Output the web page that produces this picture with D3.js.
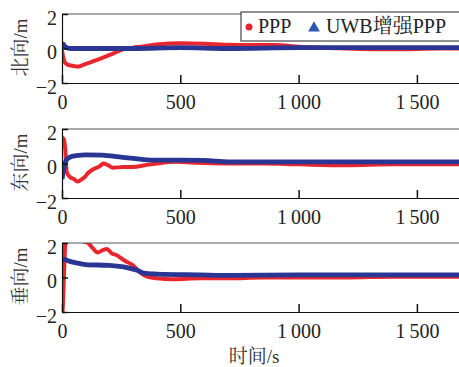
<!DOCTYPE html>
<html>
<head>
<meta charset="utf-8">
<script src="https://cdn.jsdelivr.net/npm/d3@7"></script>
<style>
  body { margin: 0; background: #fff; overflow: hidden; }
  svg { display: block; }
</style>
</head>
<body>
<div id="chart-area"></div>
<script>
// time series, [t (s), error (m)]
const northPPP = [[0,-0.1],[5,-0.5],[12,-0.8],[25,-0.95],[45,-1.0],[65,-1.05],[90,-0.95],[120,-0.8],[160,-0.6],[215,-0.3],[257,-0.05],[300,0.05],[330,0.1],[410,0.25],[500,0.3],[600,0.28],[700,0.22],[800,0.2],[900,0.2],[1000,0.1],[1200,0.0],[1400,-0.05],[1600,0.0],[1800,0.0]];
const northUWB = [[0,0.1],[5,0.25],[10,0.15],[20,0.05],[40,0.0],[100,0.0],[300,0.0],[500,0.05],[700,0.0],[1000,0.05],[1300,0.05],[1800,0.05]];
const eastPPP = [[0,1.5],[8,1.4],[14,0.8],[20,-0.5],[35,-0.8],[50,-0.9],[65,-1.05],[80,-0.95],[95,-0.8],[110,-0.55],[130,-0.35],[160,-0.15],[175,0.0],[195,-0.1],[215,-0.25],[260,-0.2],[300,-0.2],[350,-0.1],[400,0.0],[480,0.1],[560,0.05],[700,0.0],[850,0.0],[1000,-0.05],[1200,-0.1],[1400,-0.05],[1800,-0.05]];
const eastUWB = [[0,-0.9],[8,-0.3],[15,0.1],[25,0.3],[40,0.4],[60,0.45],[100,0.5],[170,0.48],[257,0.35],[300,0.3],[385,0.2],[500,0.2],[600,0.18],[710,0.1],[900,0.1],[1200,0.1],[1500,0.1],[1800,0.1]];
const upPPP = [[0,-2.5],[4,-1.5],[8,0],[12,1.5],[16,2.5],[50,3],[90,2.1],[110,2.0],[130,1.7],[150,1.45],[175,1.6],[190,1.65],[210,1.4],[230,1.3],[262,1.0],[300,0.7],[330,0.3],[360,0.05],[400,-0.05],[470,-0.1],[585,-0.05],[700,-0.05],[850,0.0],[1000,0.0],[1200,0.0],[1400,0.05],[1800,0.05]];
const upUWB = [[0,1.0],[10,1.05],[30,0.95],[60,0.85],[100,0.75],[200,0.7],[275,0.57],[320,0.4],[345,0.25],[400,0.2],[585,0.15],[710,0.12],[1000,0.15],[1300,0.15],[1800,0.15]];

const panelNames = ["北向/m", "东向/m", "垂向/m"];
const pppSeries = [northPPP, eastPPP, upPPP];
const uwbSeries = [northUWB, eastUWB, upUWB];
const xTicks = [0, 500, 1000, 1500];
const yTicks = [-2, 0, 2];
const legendNames = ["PPP", "UWB增强PPP"];

const W = 459, H = 367;
const left = 62;
const panelTops = [14, 129, 243];
const panelH = 69;

const red = "#e8262d";
const blue = "#2a3694";
const serif = "Liberation Serif, Tinos, Times New Roman, DejaVu Serif, serif";
const cjk = "Liberation Serif, Noto Serif CJK SC, Noto Sans CJK SC, serif";

const svg = d3.select("#chart-area")
  .append("svg")
  .attr("width", W)
  .attr("height", H);

const x = d3.scaleLinear()
  .domain([0, 1800])
  .range([left, left + 1800 * 0.2366]);

const fmt = d => d >= 1000 ? d3.format(",")(d).replace(",", "\u2009") : String(d);

panelNames.forEach((name, i) => {
  const top = panelTops[i];
  const y = d3.scaleLinear().domain([-2, 2]).range([top + panelH, top]);

  svg.append("clipPath").attr("id", "clip" + i)
    .append("rect")
    .attr("x", left).attr("y", top)
    .attr("width", 600).attr("height", panelH);

  const line = d3.line()
    .x(d => x(d[0]))
    .y(d => y(d[1]))
    .curve(d3.curveMonotoneX);

  const g = svg.append("g").attr("clip-path", `url(#clip${i})`);
  g.append("path").datum(pppSeries[i])
    .attr("d", line)
    .attr("fill", "none")
    .attr("stroke", red)
    .attr("stroke-width", 4)
    .attr("stroke-linejoin", "round");
  g.append("path").datum(uwbSeries[i])
    .attr("d", line)
    .attr("fill", "none")
    .attr("stroke", blue)
    .attr("stroke-width", 4.8)
    .attr("stroke-linejoin", "round");

  // top frame line
  svg.append("line")
    .attr("x1", left).attr("x2", W + 10)
    .attr("y1", top).attr("y2", top)
    .attr("stroke", "#555").attr("stroke-width", 1.2);

  const xAxis = d3.axisBottom(x)
    .tickValues(xTicks)
    .tickSizeInner(-8)
    .tickSizeOuter(0)
    .tickPadding(12)
    .tickFormat(fmt);

  const xg = svg.append("g")
    .attr("transform", `translate(0, ${top + panelH})`)
    .call(xAxis);
  xg.select(".domain").attr("stroke", "#111").attr("stroke-width", 1.2);
  xg.selectAll("line").attr("stroke", "#111").attr("stroke-width", 1.5);
  xg.selectAll("text")
    .style("font-family", serif)
    .style("font-size", "20px")
    .attr("fill", "#222");

  const yAxis = d3.axisLeft(y)
    .tickValues(yTicks)
    .tickSizeInner(-6)
    .tickSizeOuter(0)
    .tickPadding(5)
    .tickFormat(d => d < 0 ? "\u2212" + Math.abs(d) : d);

  const yg = svg.append("g")
    .attr("transform", `translate(${left}, 0)`)
    .call(yAxis);
  yg.select(".domain").attr("stroke", "#111").attr("stroke-width", 1.2);
  yg.selectAll("line").attr("stroke", "#111").attr("stroke-width", 1.5);
  yg.selectAll("text")
    .style("font-family", serif)
    .style("font-size", "20px")
    .attr("dy", "0.5em")
    .attr("fill", "#222");

  svg.append("text")
    .style("font-family", cjk)
    .style("font-size", "19px")
    .attr("transform", `translate(23, ${top + panelH / 2 - 1}) rotate(-90)`)
    .attr("text-anchor", "middle")
    .attr("dominant-baseline", "middle")
    .attr("fill", "#333")
    .text(name);
});

svg.append("text")
  .style("font-family", cjk)
  .style("font-size", "19px")
  .attr("x", 254)
  .attr("y", 363)
  .attr("text-anchor", "middle")
  .attr("fill", "#333")
  .text("时间/s");

// legend
const lg = svg.append("g");
lg.append("rect")
  .attr("x", 241).attr("y", 12)
  .attr("width", 240).attr("height", 29)
  .attr("fill", "#fff")
  .attr("stroke", "#222")
  .attr("stroke-width", 1);
lg.append("circle")
  .attr("cx", 249).attr("cy", 27).attr("r", 3.5)
  .attr("fill", red);
lg.append("text")
  .style("font-family", serif)
  .style("font-size", "20px")
  .attr("x", 258).attr("y", 33)
  .attr("fill", "#222")
  .text(legendNames[0]);
lg.append("path")
  .attr("d", d3.symbol(d3.symbolTriangle, 60)())
  .attr("transform", "translate(314, 28)")
  .attr("fill", "#2c56b0");
lg.append("text")
  .style("font-family", cjk)
  .style("font-size", "20px")
  .attr("x", 326).attr("y", 33)
  .attr("fill", "#222")
  .text(legendNames[1]);
</script>
</body>
</html>
